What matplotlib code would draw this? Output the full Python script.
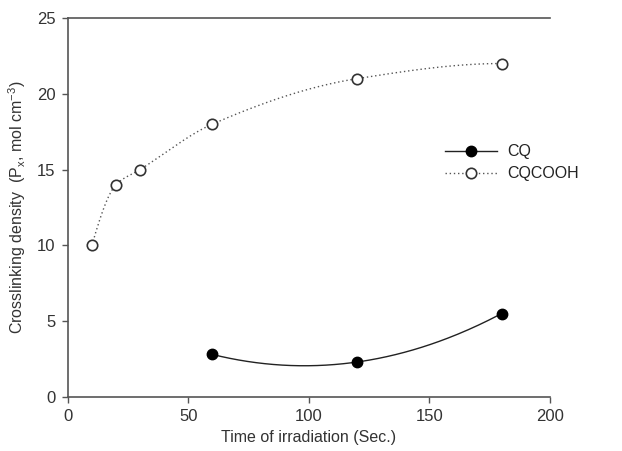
import matplotlib
matplotlib.use("Agg")
import matplotlib.pyplot as plt
import numpy as np

plt.rcParams['font.family'] = ['Liberation Sans', 'DejaVu Sans']
plt.rcParams['mathtext.fontset'] = 'custom'
plt.rcParams['mathtext.rm'] = 'Liberation Sans'
plt.rcParams['mathtext.it'] = 'Liberation Sans'

# data
time_cq = [60, 120, 180]
dens_cq = [2.8, 2.3, 5.5]
time_cooh = [10, 20, 30, 60, 120, 180]
dens_cooh = [10, 14, 15, 18, 21, 22]


def smooth(x, y, n=300):
    # monotone cubic (pchip) for the connecting line
    x = np.asarray(x, float)
    y = np.asarray(y, float)
    h = np.diff(x)
    d = np.diff(y) / h
    m = np.zeros_like(y)
    for i in range(1, len(x) - 1):
        if d[i - 1] * d[i] > 0:
            w1 = 2 * h[i] + h[i - 1]
            w2 = h[i] + 2 * h[i - 1]
            m[i] = (w1 + w2) / (w1 / d[i - 1] + w2 / d[i])
    m[0] = ((2 * h[0] + h[1]) * d[0] - h[0] * d[1]) / (h[0] + h[1])
    if np.sign(m[0]) != np.sign(d[0]):
        m[0] = 0
    m[-1] = ((2 * h[-1] + h[-2]) * d[-1] - h[-1] * d[-2]) / (h[-1] + h[-2])
    if np.sign(m[-1]) != np.sign(d[-1]):
        m[-1] = 0
    xs = np.linspace(x[0], x[-1], n)
    i = np.clip(np.searchsorted(x, xs) - 1, 0, len(x) - 2)
    t = (xs - x[i]) / h[i]
    h00 = 2 * t**3 - 3 * t**2 + 1
    h10 = t**3 - 2 * t**2 + t
    h01 = -2 * t**3 + 3 * t**2
    h11 = t**3 - t**2
    ys = h00 * y[i] + h10 * h[i] * m[i] + h01 * y[i + 1] + h11 * h[i] * m[i + 1]
    return xs, ys


fig = plt.figure(figsize=(6.22, 4.51), dpi=100)
ax = fig.add_axes([0.109, 0.120, 0.775, 0.840])

# CQ: quadratic through three points
cx = np.linspace(time_cq[0], time_cq[-1], 200)
cy = np.polyval(np.polyfit(time_cq, dens_cq, 2), cx)
ax.plot(cx, cy, color='#222222', lw=1.0)
ax.plot(time_cq, dens_cq, 'o', color='black', ms=7.5)
ax.plot([], [], '-o', color='#222222', mfc='black', mec='black', ms=7.5, lw=1.0, label='CQ')

sx, sy = smooth(time_cooh, dens_cooh)
ax.plot(sx, sy, color='#555555', lw=1.0, ls=(0, (1, 2)))
ax.plot(time_cooh, dens_cooh, 'o', mfc='white', mec='#333333', mew=1.2, ms=7.5)
ax.plot([], [], 'o', ls=(0, (1, 2)), color='#555555', mfc='white', mec='#333333',
        mew=1.2, ms=7.5, lw=1.0, label='CQCOOH')

ax.set_xlim(0, 200)
ax.set_ylim(0, 25)
ax.set_xticks([0, 50, 100, 150, 200])
ax.set_yticks([0, 5, 10, 15, 20, 25])

for s in ['left', 'bottom', 'top']:
    ax.spines[s].set_color('#555555')
    ax.spines[s].set_linewidth(1.2)
ax.spines['right'].set_visible(False)
ax.tick_params(direction='out', length=4, width=1, color='#555555',
               labelsize=12, labelcolor='#333333', pad=5)

ax.set_xlabel('Time of irradiation (Sec.)', fontsize=11.5, color='#333333', labelpad=4)
ax.set_ylabel('Crosslinking density  (P$_{x}$, mol cm$^{-3}$)', fontsize=11.5,
              color='#333333', labelpad=6)

ax.legend(loc='upper left', bbox_to_anchor=(0.752, 0.705), frameon=False,
          fontsize=11.5, handlelength=3.3, handletextpad=0.6, labelspacing=0.45,
          labelcolor='#222222')

fig.savefig('out.png', dpi=100)
